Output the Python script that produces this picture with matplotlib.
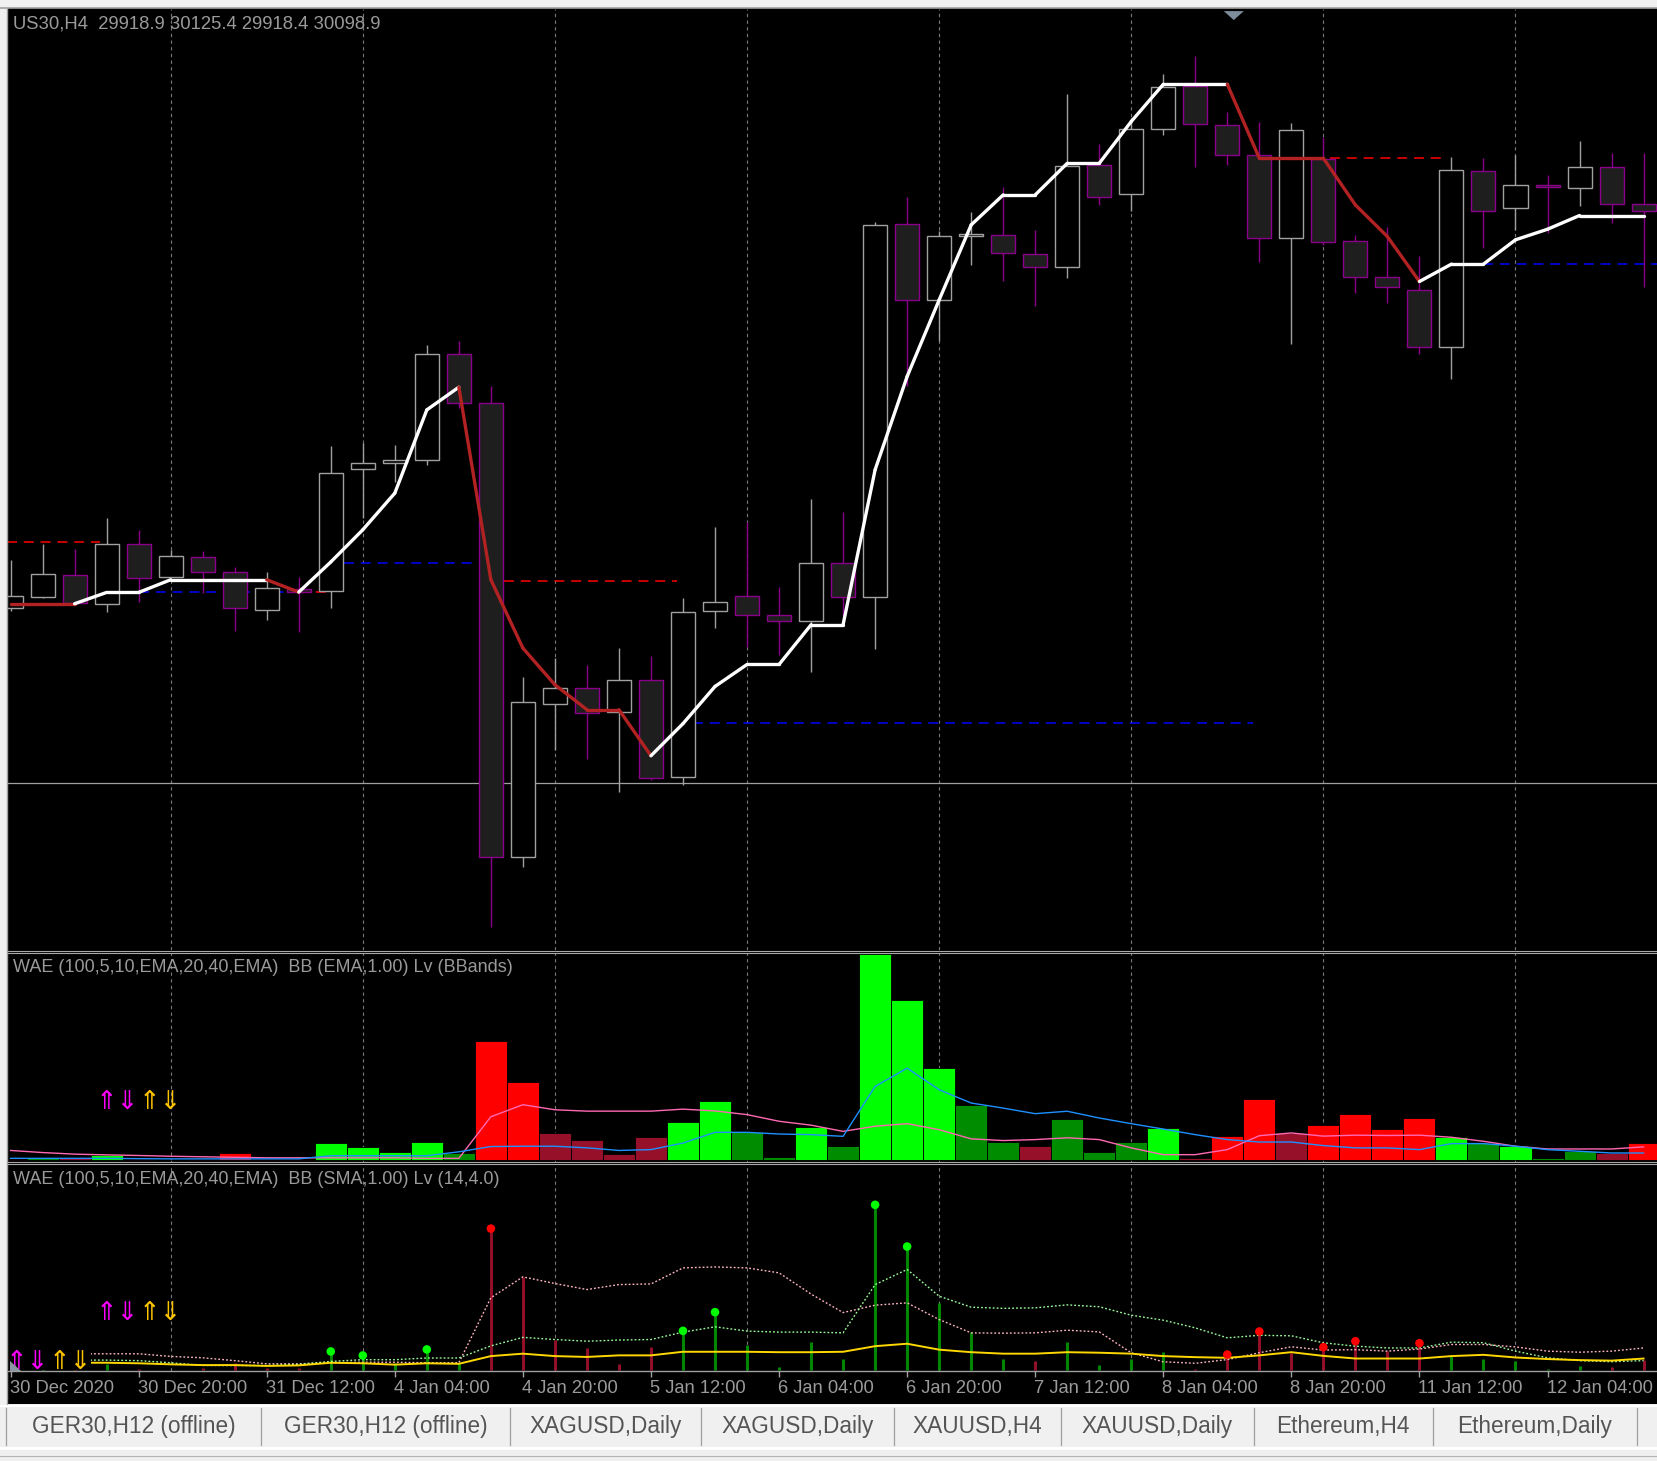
import numpy as np
import matplotlib
matplotlib.use("Agg")
import matplotlib.pyplot as plt
from matplotlib.patches import Rectangle, Polygon
from matplotlib.lines import Line2D
from matplotlib.collections import LineCollection
import matplotlib.transforms as mtransforms

plt.rcParams['font.family'] = ['Liberation Sans', 'DejaVu Sans']

# ---------------- data ----------------
symbol_title = "US30,H4  29918.9 30125.4 29918.4 30098.9"

opens = [30724, 30735, 30756, 30728, 30785, 30754, 30773, 30759, 30723, 30742,
         30740.5, 30856, 30861.6, 30864.4, 30964.7, 30918.4, 30488.7, 30633.6, 30648.7, 30626,
         30656.2, 30564.5, 30721.5, 30736, 30718, 30712, 30767, 30735, 31088, 31016,
         31076.5, 31077.3, 31059.3, 31047, 31143.6, 31116.1, 31177.6, 31218.6, 31181.4, 31153,
         31075, 31149.2, 31071.6, 31037.6, 31025.3, 30971.3, 31138, 31102.9, 31124.6, 31121.8,
         31141.7, 31106.7]
highs = [30770, 30785, 30780, 30810, 30798, 30779, 30778, 30763, 30759, 30754,
         30878, 30880.5, 30879, 30973.5, 30977.3, 30934.7, 30659.4, 30677, 30670.7, 30686.5,
         30679.3, 30734.1, 30801.3, 30806, 30744.5, 30828, 30815, 31090, 31113.6, 31081,
         31099, 31123.4, 31082.4, 31211, 31163.7, 31188, 31230, 31247, 31194, 31184.6,
         31183.3, 31170, 31077.6, 31085, 31057.8, 31151.4, 31150.5, 31153, 31134, 31166.3,
         31155, 31155]
lows = [30722, 30734, 30728, 30721, 30730, 30753, 30739, 30703, 30713, 30702,
        30724, 30810, 30844.2, 30860, 30914.2, 30422.2, 30479, 30590.3, 30581.5, 30550.3,
        30561.3, 30556.5, 30705.1, 30688, 30680, 30664, 30716.5, 30686, 30935, 30977,
        31049, 31034.4, 31010, 31036.6, 31106.3, 31100.6, 31172.5, 31142.3, 31144, 31052.4,
        30974, 31068.2, 31022.4, 31013.6, 30964.7, 30941.7, 31065.6, 31082.4, 31079.2, 31105.4,
        31089.3, 31028.7]
closes = [30736, 30757, 30729, 30785, 30753, 30774, 30759, 30724, 30743, 30740,
          30852, 30861.6, 30864.4, 30964.7, 30918.4, 30488.7, 30635.4, 30648.7, 30625, 30656.2,
          30563.5, 30720.6, 30730, 30717.4, 30712, 30767, 30735, 31087, 31016, 31076.4,
          31078.3, 31060.3, 31047, 31143, 31113.3, 31177.6, 31217.4, 31182.4, 31153, 31075,
          31176.7, 31071.3, 31038.2, 31028.1, 30971.3, 31138.8, 31100, 31124.6, 31122.7, 31141.7,
          31106.7, 31100]

trend_line = [30728.5, 30728.5, 30728.5, 30739.2, 30739.2, 30751.2, 30751.2, 30751.2, 30751.2, 30739.5,
              30768, 30798.5, 30833.2, 30912, 30933.5, 30751.2, 30686.5, 30651.8, 30628.2, 30628.2,
              30584.6, 30615, 30650.2, 30671, 30671, 30708.6, 30708.6, 30855.3, 30943.6, 31016.1,
              31087.1, 31115.5, 31115.5, 31145.4, 31145.4, 31185, 31220.2, 31220.2, 31220.2, 31150.2,
              31150.2, 31150.2, 31106, 31076, 31033.5, 31050, 31050, 31073, 31083, 31096,
              31096, 31096]
trend_dir = [-1, -1, -1, 1, 1, 1, 1, 1, 1, -1,
             1, 1, 1, 1, 1, -1, -1, -1, -1, -1,
             -1, 1, 1, 1, 1, 1, 1, 1, 1, 1,
             1, 1, 1, 1, 1, 1, 1, 1, 1, -1,
             -1, -1, -1, -1, -1, 1, 1, 1, 1, 1,
             1, 1]

level_price = [30787, 30739.5, 30739.5, 30767, 30750.2, 30615.5, 31150.2, 31050]
level_from = [-0.1, 4.0, 9.0, 10.4, 15.4, 21.3, 41.2, 46.0]
level_to = [2.8, 8.9, 10.0, 14.6, 20.8, 38.8, 44.8, 52.0]
level_kind = ['res', 'sup', 'res', 'sup', 'res', 'sup', 'res', 'sup']
hline_price = 30558.7

wae_hist = [1.6, 1.9, 1.9, 4.8, 1.3, 0.7, 1.3, 6.6, 1.0, 1.0,
            16.1, 12.3, 7.6, 17.1, 6.6, 113.6, 73.8, 25.6, 19.6, 5.7,
            21.8, 36.0, 56.5, 26.5, 2.8, 31.3, 13.3, 195.9, 152.0, 87.7,
            52.1, 17.0, 13.3, 39.4, 7.6, 17.0, 30.3, 1.8, 22.7, 57.7,
            26.2, 33.1, 43.5, 29.3, 39.8, 21.8, 16.7, 13.9, 1.8, 9.1,
            6.9, 16.1]
wae_state = ['r', 'g', 'r', 'G', 'r', 'g', 'r', 'R', 'r', 'r',
             'G', 'G', 'G', 'G', 'g', 'R', 'R', 'r', 'r', 'r',
             'r', 'G', 'G', 'g', 'g', 'G', 'g', 'G', 'G', 'G',
             'g', 'g', 'r', 'g', 'g', 'g', 'G', 'r', 'R', 'R',
             'r', 'R', 'R', 'R', 'R', 'G', 'g', 'G', 'g', 'g',
             'r', 'R']
wae_explosion = [9.3, 7.3, 5.8, 5.1, 4.5, 3.8, 3.3, 2.8, 2.3, 2.3,
                 2.3, 2.3, 2.3, 1.8, 1.8, 41.3, 52.7, 47.9, 46.6, 46.6,
                 46.6, 48.5, 46.8, 43.3, 37.0, 33.3, 27.4, 32.3, 34.7, 29.0,
                 20.3, 18.7, 19.6, 21.3, 19.6, 11.7, 5.3, 5.3, 10.1, 23.3,
                 25.9, 22.9, 23.8, 23.5, 23.8, 21.8, 18.0, 13.3, 10.7, 10.7,
                 10.7, 12.7]
wae_dead = [1.8, 1.8, 1.8, 1.8, 1.5, 1.3, 1.3, 1.3, 1.3, 1.3,
            4.3, 4.3, 4.3, 4.3, 8.0, 13.0, 13.3, 13.3, 11.8, 9.3,
            10.1, 16.3, 26.5, 26.5, 24.9, 24.3, 22.7, 70.0, 87.4, 66.9,
            54.3, 49.5, 44.2, 46.5, 40.1, 34.7, 29.6, 24.3, 19.6, 17.3,
            17.3, 13.9, 11.7, 11.7, 10.1, 15.8, 15.8, 13.3, 10.1, 8.5,
            6.9, 6.9]

wae2_stem = [1.0, 1.5, 1.5, 5.7, 1.0, 0.5, 1.9, 6.6, 1.9, 1.9,
             18.0, 14.2, 7.3, 19.9, 7.3, 134.3, 88.6, 29.3, 20.8, 5.8,
             22.1, 37.5, 55.2, 24.3, 3.3, 26.8, 11.3, 156.8, 117.3, 64.0,
             36.3, 11.3, 8.8, 26.8, 5.3, 11.3, 17.9, 1.5, 15.1, 36.9,
             16.7, 22.1, 27.7, 18.9, 25.8, 13.6, 11.3, 9.3, 1.5, 4.3,
             3.3, 10.3]
wae2_signal_bars = [10, 11, 13, 15, 21, 22, 27, 28, 38, 39, 41, 42, 44]
nan = float('nan')
wae2_level = [nan, nan, 7.3, 7.3, 6.8, 5.8, 5.1, 5.1, 4.3, 4.8,
              7.3, 6.8, 5.5, 6.8, 6.3, 13.6, 15.9, 13.6, 12.8, 14.3,
              14.3, 17.7, 17.7, 17.7, 17.3, 17.3, 17.7, 23.0, 25.3, 19.7,
              17.3, 15.9, 15.9, 17.3, 16.8, 15.9, 13.6, 12.6, 12.0, 14.3,
              17.3, 13.8, 11.3, 11.3, 11.3, 13.6, 14.8, 12.3, 10.8, 9.8,
              9.3, 11.3]
wae2_band_pink = [nan, nan, 15.8, 15.8, 15.8, 13.3, 12.0, 9.3, 6.3, 6.3,
                  7.3, 7.8, 7.8, 7.3, 7.3, 68.8, 88.6, 82.3, 76.6, 81.3,
                  81.9, 97.1, 98.0, 97.1, 92.4, 72.3, 54.8, 61.8, 64.0, 48.2,
                  35.6, 35.3, 35.6, 38.1, 36.5, 16.7, 8.2, 6.8, 10.3, 16.8,
                  22.4, 19.3, 19.7, 18.3, 20.3, 24.6, 24.6, 22.3, 18.3, 17.3,
                  18.3, 21.3]
wae2_band_green = [nan, nan, 9.8, 9.8, 9.3, 7.3, 4.7, 4.7, 4.7, 5.8,
                   8.6, 10.2, 10.2, 11.8, 11.8, 23.3, 31.3, 29.3, 27.7, 28.8,
                   29.3, 36.3, 41.3, 37.3, 36.3, 36.3, 35.6, 81.3, 95.6, 70.3,
                   59.9, 58.8, 59.3, 62.1, 60.3, 52.3, 47.6, 40.3, 30.9, 33.3,
                   32.8, 26.2, 23.0, 21.3, 21.3, 26.8, 26.3, 18.3, 12.0, 9.3,
                   8.3, 9.3]

time_labels = ["30 Dec 2020", "30 Dec 20:00", "31 Dec 12:00", "4 Jan 04:00", "4 Jan 20:00",
               "5 Jan 12:00", "6 Jan 04:00", "6 Jan 20:00", "7 Jan 12:00", "8 Jan 04:00",
               "8 Jan 20:00", "11 Jan 12:00", "12 Jan 04:00"]
time_label_bars = [0, 4, 8, 12, 16, 20, 24, 28, 32, 36, 40, 44, 48]

panel1_title = "WAE (100,5,10,EMA,20,40,EMA)  BB (EMA,1.00) Lv (BBands)"
panel2_title = "WAE (100,5,10,EMA,20,40,EMA)  BB (SMA,1.00) Lv (14,4.0)"

tab_labels = ["GER30,H12 (offline)", "GER30,H12 (offline)", "XAGUSD,Daily", "XAGUSD,Daily",
              "XAUUSD,H4", "XAUUSD,Daily", "Ethereum,H4", "Ethereum,Daily"]

# ---------------- layout helpers (reference layout units) ----------------
SW, SH = 1568.0, 1383.0
def fx(x): return x / SW
def fy(y): return 1.0 - y / SH
def rect(x0, y0, x1, y1): return [fx(x0), fy(y1), (x1 - x0) / SW, (y1 - y0) / SH]

BAR0, BARW = 10.0, 30.3   # bar 0 centre and bar spacing
XL = ((8 - BAR0) / BARW, (SW - BAR0) / BARW)

TXT = '#9a9a9a'
GRID = '#7a7a7a'
fig = plt.figure(figsize=(16.57, 14.61), dpi=100, facecolor='#f0f0f0')

# chart window background
fig.patches.append(Rectangle((fx(8), fy(1329.5)), fx(SW) - fx(8), fy(8) - fy(1329.5),
                             transform=fig.transFigure, facecolor='black', edgecolor='none', zorder=-5))
fig.add_artist(Line2D([fx(0), fx(SW)], [fy(7.5), fy(7.5)], color='#a0a0a0', lw=1.2))
fig.add_artist(Line2D([fx(7), fx(7)], [fy(7.5), fy(1329.5)], color='#a0a0a0', lw=1.0))

n = len(opens)
x = np.arange(n)
grid_bars = np.arange(5, n, 6)

def style_ax(ax):
    ax.set_facecolor('black')
    for s in ax.spines.values():
        s.set_visible(False)
    ax.set_xlim(*XL)
    ax.set_xticks([])
    ax.set_yticks([])
    for g in grid_bars:
        ax.axvline(g, color=GRID, lw=0.8, ls=(0, (3, 3)), zorder=0.5)

# ---------------- main price panel ----------------
ax = fig.add_axes(rect(8, 8.5, SW, 899))
style_ax(ax)
ax.set_ylim(31300 - 899, 31300 - 8.5)

ax.axhline(hline_price, color='#a0a0a0', lw=0.9, zorder=1)
for p, a, b, k in zip(level_price, level_from, level_to, level_kind):
    ax.hlines(p, a, b, colors='#ff0000' if k == 'res' else '#0000ff', lw=1.1,
              linestyles=(0, (6.5, 4.5)), zorder=1.5)

BULL_EDGE, BEAR_EDGE = '#a0a0a0', '#8b008b'
for i in range(n):
    o, h, l, c = opens[i], highs[i], lows[i], closes[i]
    up = c >= o
    ec = BULL_EDGE if up else BEAR_EDGE
    ax.vlines(i, l, h, colors=ec, lw=1.0, zorder=2)
    ax.add_patch(Rectangle((i - 0.375, min(o, c)), 0.75, max(abs(c - o), 0.8),
                           facecolor='black' if up else '#1e1e1e', edgecolor=ec, lw=1.0, zorder=3))

segs = [[(i - 1, trend_line[i - 1]), (i, trend_line[i])] for i in range(1, n)]
cols = ['#ffffff' if trend_dir[i] > 0 else '#b22222' for i in range(1, n)]
ax.add_collection(LineCollection(segs, colors=cols, linewidths=2.4, capstyle='round',
                                 joinstyle='round', zorder=5))

fig.text(fx(12), fy(23), symbol_title, color=TXT, fontsize=13.3, va='center', ha='left')
fig.patches.append(Polygon([[fx(1158), fy(10.5)], [fx(1177), fy(10.5)], [fx(1167.5), fy(19)]],
                           closed=True, transform=fig.transFigure, facecolor='#7d8c9c',
                           edgecolor='none', zorder=6))

# separators
for yy in (900.0, 901.9, 1100.0, 1101.9):
    fig.add_artist(Line2D([fx(8), fx(SW)], [fy(yy), fy(yy)], color='#a8a8a8', lw=0.8))

# ---------------- WAE panel 1 ----------------
ax1 = fig.add_axes(rect(8, 902.5, SW, 1099.5))
style_ax(ax1)
ax1.set_ylim(-1.2, 196.3)
cmap = {'G': '#00ff00', 'g': '#008c00', 'R': '#ff0000', 'r': '#96102a'}
ax1.bar(x, wae_hist, width=1.0, color=[cmap[s] for s in wae_state], edgecolor='black',
        linewidth=0.6, zorder=2)
ax1.plot(x, wae_explosion, color='#ff69b4', lw=1.0, zorder=3)
ax1.plot(x, wae_dead, color='#1e90ff', lw=1.0, zorder=3)
fig.text(fx(12), fy(916), panel1_title, color=TXT, fontsize=13, va='center', ha='left')

ARROW_PAIR = '\u21d1\u21d3'
ARROW_FS = 18.5
ARROW_STEP = 20.3   # glyph advance in layout units at ARROW_FS
def arrows(x_first, yc):
    for k, c in enumerate(['#ff00ff', '#ffc400']):
        cx = x_first + (2 * k + 0.5) * ARROW_STEP
        fig.text(fx(cx), fy(yc), ARROW_PAIR, color=c, fontsize=ARROW_FS, ha='center',
                 va='center', family=['DejaVu Sans'], zorder=10)

arrows(101, 1043)

# ---------------- WAE panel 2 ----------------
ax2 = fig.add_axes(rect(8, 1102.5, SW, 1298))
style_ax(ax2)
ax2.set_ylim(-0.7, 194.8)
stem_cols = ['#008c00' if s in 'Gg' else '#96102a' for s in wae_state]
ax2.vlines(x, 0, wae2_stem, colors=stem_cols, lw=2.1, zorder=2)
ax2.plot(x, wae2_band_pink, color='#ffb6c1', lw=1.0, ls=(0, (1.3, 1.5)), zorder=3)
ax2.plot(x, wae2_band_green, color='#98fb98', lw=1.0, ls=(0, (1.3, 1.5)), zorder=3)
ax2.plot(x, wae2_level, color='#ffd700', lw=1.4, zorder=3)
sig = np.array(wae2_signal_bars)
stems = np.array(wae2_stem)
dot_cols = ['#00ff00' if wae_state[i] in 'Gg' else '#ff0000' for i in sig]
ax2.scatter(sig, stems[sig], s=38, c=dot_cols, zorder=4, linewidths=0)
fig.text(fx(12), fy(1117), panel2_title, color=TXT, fontsize=13, va='center', ha='left')
arrows(101, 1242.5)
# the lower label block hides the start of the indicator lines
fig.patches.append(Rectangle((fx(8.5), fy(1297.2)), fx(86) - fx(8.5), fy(1278) - fy(1297.2),
                             transform=fig.transFigure, facecolor='black', edgecolor='none',
                             zorder=9))
arrows(16, 1289)
fig.patches.append(Polygon([[fx(9.5), fy(1288.5)], [fx(9.5), fy(1297.5)], [fx(19.5), fy(1297.5)]],
                           closed=True, transform=fig.transFigure, facecolor='#8a96a2',
                           edgecolor='none', zorder=11))

# x axis
ax2.spines['bottom'].set_visible(True)
ax2.spines['bottom'].set_color('#a0a0a0')
ax2.spines['bottom'].set_linewidth(1.0)
ax2.set_xticks(time_label_bars)
ax2.set_xticklabels([])
ax2.tick_params(axis='x', length=4, width=1, color='#a0a0a0', direction='out')
trans = mtransforms.blended_transform_factory(ax2.transData, fig.transFigure)
for b, lab in zip(time_label_bars, time_labels):
    ax2.text(b - 0.03, fy(1314), lab, transform=trans, color=TXT, fontsize=13.2,
             ha='left', va='center', clip_on=False)

# ---------------- tab bar ----------------
fig.add_artist(Line2D([fx(0), fx(SW)], [fy(1330.6), fy(1330.6)], color='white', lw=1.5))
fig.add_artist(Line2D([fx(0), fx(SW)], [fy(1370.5), fy(1370.5)], color='white', lw=2.0))
fig.add_artist(Line2D([fx(0), fx(SW)], [fy(1378.5), fy(1378.5)], color='#b4b4b4', lw=0.8))
tab_seps = [5.4, 247, 482.4, 663.8, 846, 1004.2, 1186.2, 1355.8, 1549.2]
for sx in tab_seps:
    fig.add_artist(Line2D([fx(sx), fx(sx)], [fy(1333), fy(1368)], color='#a0a0a0', lw=0.9))
for k, lab in enumerate(tab_labels):
    cx = 0.5 * (tab_seps[k] + tab_seps[k + 1])
    fig.text(fx(cx), fy(1350), lab, color='#555555', fontsize=16.3, ha='center', va='center')

fig.savefig('out.png', dpi=100, facecolor=fig.get_facecolor())
